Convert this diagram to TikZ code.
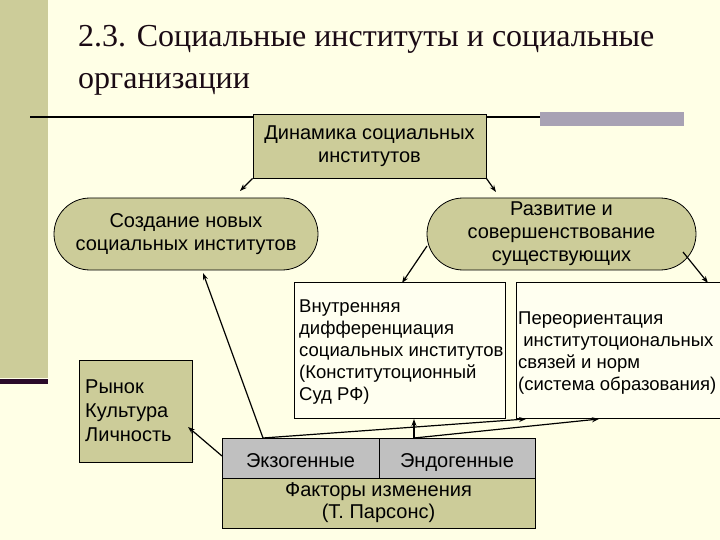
\documentclass[tikz,border=0pt]{standalone}
\usepackage{fontspec}
\setmainfont{Liberation Serif}
\newfontfamily\arialf{Liberation Sans}
\usetikzlibrary{arrows.meta}
\definecolor{bgc}{HTML}{FFFFE6}
\definecolor{olive}{HTML}{CCCC99}
\definecolor{olivefill}{HTML}{CCCC99}
\definecolor{grayrow}{HTML}{C0C0C0}
\definecolor{boxw}{HTML}{FFFFF0}
\definecolor{barc}{HTML}{A8A2B4}
\definecolor{darkp}{HTML}{2A0A2A}
\definecolor{titlec}{HTML}{1A0A14}
\begin{document}
\begin{tikzpicture}[x=1pt,y=-1pt,
  lbl/.style={font=\arialf\fontsize{20}{23}\selectfont, align=center, inner sep=0pt},
  lbls/.style={font=\arialf\fontsize{18.5}{22}\selectfont, align=left, inner sep=0pt, anchor=north west},
  olivebox/.style={draw=black, line width=0.8pt, fill=olivefill, rectangle, inner sep=0pt},
  whitebox/.style={draw=black, line width=0.8pt, fill=boxw, rectangle, inner sep=0pt},
  graybox/.style={draw=black, line width=0.8pt, fill=grayrow, rectangle, inner sep=0pt},
  stadium/.style={draw=black, line width=0.8pt, fill=olivefill, rounded corners=36pt, inner sep=0pt},
  conn/.style={draw=black, line width=1.2pt, -{Stealth[length=7pt,width=5pt]}},
  ttl/.style={anchor=base west, inner sep=0pt, text=titlec, font=\fontsize{32}{38}\selectfont}
]
\useasboundingbox (0,0) rectangle (720,540);
\fill[bgc] (0,0) rectangle (720,540);
% left band
\fill[olive] (0,0) rectangle (48,378);
\fill[darkp] (0,379) rectangle (48,384);
% top rule and bar
\draw[black, line width=1.4pt] (30,117) -- (541,117);
\fill[barc] (540,112) rectangle (684,126);
% title
\node[ttl] (t1) at (78,47) {2.3. Социальные институты и социальные};
\node[ttl] (t2) at (78,89) {организации};
% nodes
\node[olivebox, minimum width=233pt, minimum height=64pt] (top) at (369.5,146) {};
\node[lbl] at (top.center) {Динамика социальных\\институтов};
\node[stadium, minimum width=264pt, minimum height=72pt] (left) at (186,234) {};
\node[lbl] at (left.center) {Создание новых\\социальных институтов};
\node[stadium, minimum width=269pt, minimum height=72pt] (right) at (561.5,234) {};
\node[lbl] at (right.center) {Развитие и\\совершенствование\\существующих};
\node[whitebox, minimum width=211pt, minimum height=136pt] (inner) at (399.5,350) {};
\node[lbls] at (299,300) {Внутренняя\\дифференциация\\социальных институтов\\(Конститутоционный\\Суд РФ)};
\node[whitebox, minimum width=205pt, minimum height=136pt] (reor) at (618.5,350) {};
\node[lbls] at (518,312) {Переориентация\\\ институтоциональных\\связей и норм\\(система образования)};
\node[olivebox, minimum width=113pt, minimum height=102pt] (mkt) at (135.5,411) {};
\node[lbls, font=\arialf\fontsize{20}{24}\selectfont] at (85,380) {Рынок\\Культура\\Личность};
\node[graybox, minimum width=157pt, minimum height=40pt] (exo) at (300.5,458) {};
\node[lbl, anchor=base] at (300.5,467) {Экзогенные};
\node[graybox, minimum width=156pt, minimum height=40pt] (endo) at (457,458) {};
\node[lbl, anchor=base] at (457,467) {Эндогенные};
\node[olivebox, minimum width=313pt, minimum height=50pt] (fac) at (378.5,503) {};
\node[lbl, font=\arialf\fontsize{20}{22}\selectfont] at (fac.center) {Факторы изменения\\(Т. Парсонс)};
% connector endpoints
\coordinate (a1) at (240,191);
\coordinate (a2) at (496,192);
\coordinate (r1) at (427,246);
\coordinate (r2) at (683,252);
\coordinate (i1) at (402,283);
\coordinate (i2) at (708,283);
\coordinate (e1) at (263,438);
\coordinate (e2) at (414,438);
\coordinate (e3) at (222,456);
\coordinate (l1) at (203,273);
\coordinate (m1) at (188,427);
\coordinate (p1) at (526,419);
\coordinate (p2) at (599,419);
\coordinate (v1) at (414,419);
% connectors
\draw[conn] (top.south west) -- (a1);
\draw[conn] (top.south east) -- (a2);
\draw[conn] (r1) -- (i1);
\draw[conn] (r2) -- (i2);
\draw[conn] (e1) -- (l1);
\draw[conn] (e3) -- (m1);
\draw[conn] (e1) -- (p1);
\draw[conn] (e2) -- (p2);
\draw[conn] (e2) -- (v1);
\end{tikzpicture}
\end{document}
